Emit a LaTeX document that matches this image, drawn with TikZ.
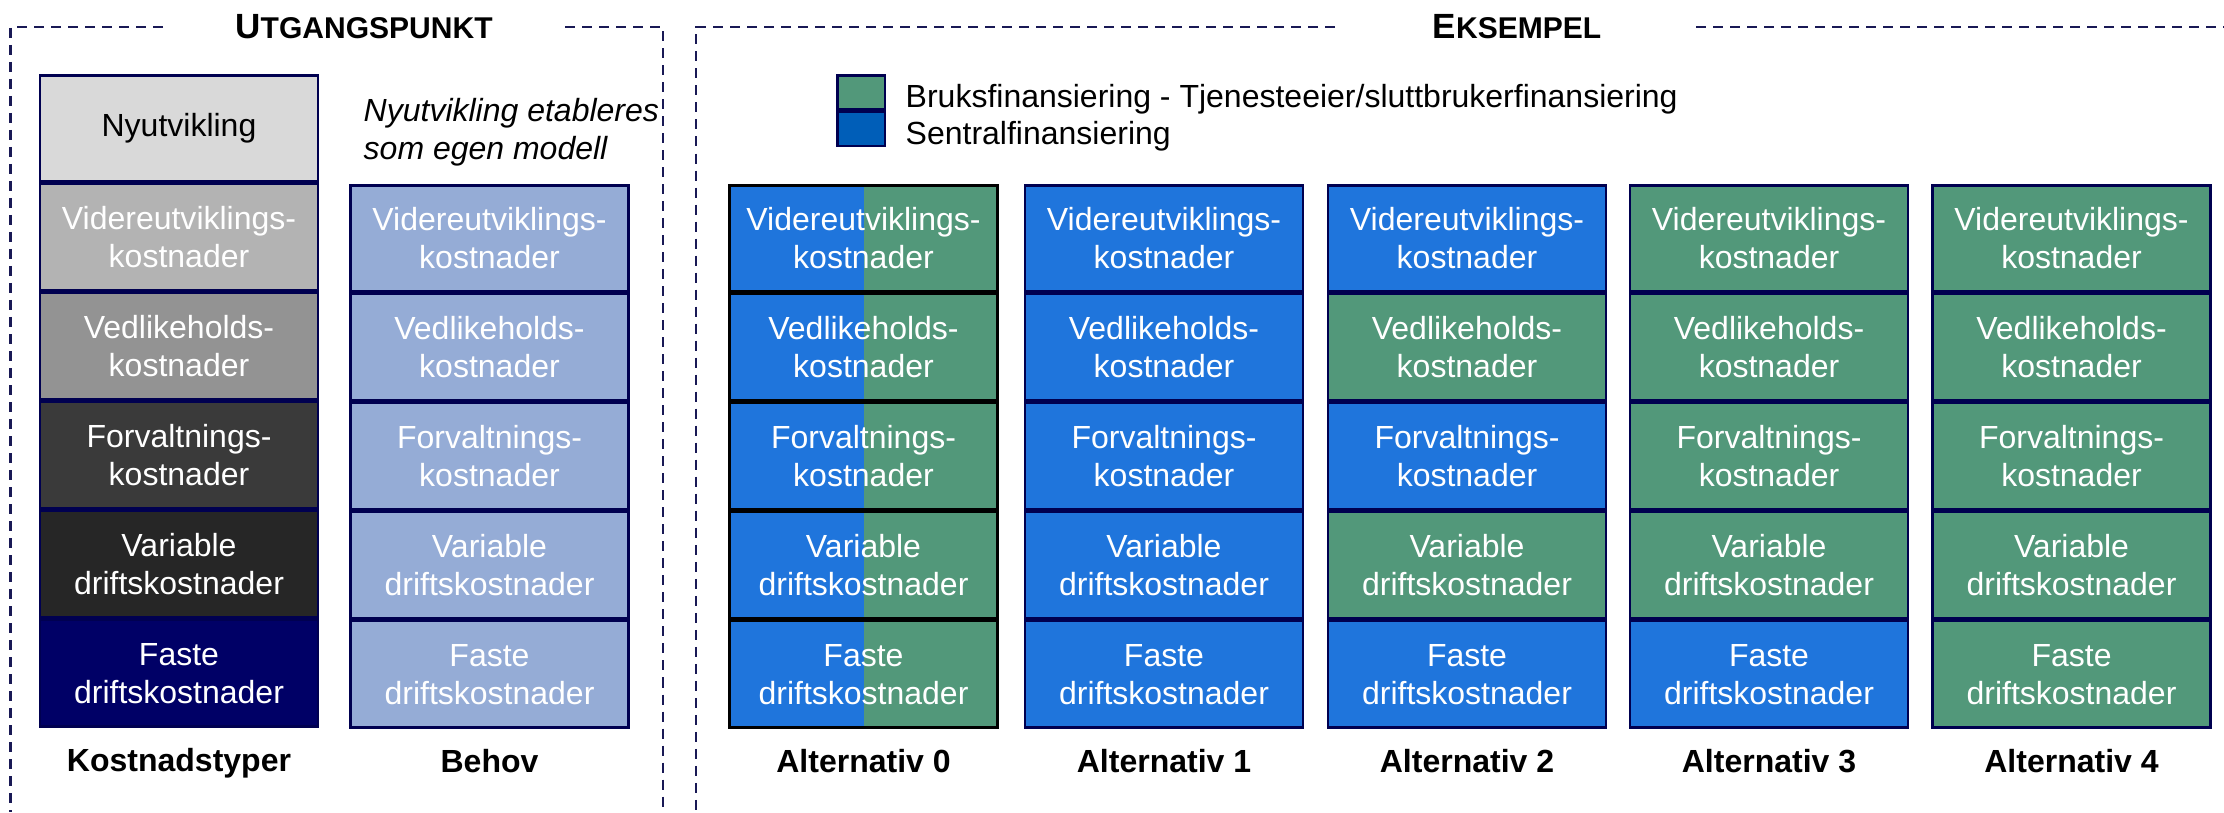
\documentclass[tikz,border=0pt]{standalone}
\usepackage{fontspec}
\setmainfont{Liberation Sans}
\usetikzlibrary{positioning}
\definecolor{boxline}{RGB}{0,0,80}
\definecolor{frameline}{RGB}{25,25,85}
\definecolor{nyutv}{RGB}{217,217,217}
\definecolor{videre}{RGB}{179,179,179}
\definecolor{vedlike}{RGB}{147,147,147}
\definecolor{forvalt}{RGB}{58,58,58}
\definecolor{variabel}{RGB}{38,38,38}
\definecolor{faste}{RGB}{0,0,102}
\definecolor{behov}{RGB}{149,172,214}
\definecolor{sentral}{RGB}{31,117,220}
\definecolor{bruk}{RGB}{82,152,122}
\definecolor{sentrallegend}{RGB}{0,94,184}
\newcommand{\firstletter}[1]{{\fontsize{9.96}{12}\selectfont #1}}
\tikzset{
    frame/.style={draw=frameline, line width=0.027cm, dash pattern=on 0.1cm off 0.07cm}, % the dashed section frames
    heading/.style={inner sep=0pt, font=\bfseries\fontsize{8.54}{10}\selectfont}, % section titles
    cell/.style={draw=boxline, line width=0.025cm, minimum width=2.775cm, minimum height=1.064cm, inner sep=0pt, align=center, text=white, font=\fontsize{9.1}{10.8}\selectfont}, % one cost box
    sentralcell/.style={cell, fill=sentral},
    brukcell/.style={cell, fill=bruk},
    splitcell/.style={cell, draw=black, minimum width=2.675cm, fill=bruk, path picture={\fill[sentral] (path picture bounding box.south west) rectangle (path picture bounding box.north);}}, % half and half
    collabel/.style={inner sep=0pt, font=\bfseries\fontsize{9.1}{10.8}\selectfont}, % name under a column
    note/.style={inner sep=0pt, align=left, font=\itshape\fontsize{9.1}{10.8}\selectfont},
    legbox/.style={draw=boxline, line width=0.025cm, minimum width=0.475cm, minimum height=0.34cm, inner sep=0pt},
    legtext/.style={inner sep=0pt, font=\fontsize{9.1}{10.8}\selectfont},
}
\begin{document}
\begin{tikzpicture}[x=0.01cm, y=-0.01cm]
\useasboundingbox (0,0) rectangle (2224,812);
\draw[frame] (163,27) -| (10.7,812);
\draw[frame] (565,27) -| (663,812);
\draw[frame] (1335,27) -| (696,812);
\draw[frame] (1696,27) -- (2224,27);
\node[heading] (utg) at (364,27) {\firstletter{U}TGANGSPUNKT};
\node[heading] (eks) at (1517,27) {\firstletter{E}KSEMPEL};

\node[cell, fill=nyutv, text=black, anchor=north] (k1) at (179,74) {Nyutvikling};
\node[cell, fill=videre, below=0pt of k1] (k2) {Videreutviklings-\\kostnader};
\node[cell, fill=vedlike, below=0pt of k2] (k3) {Vedlikeholds-\\kostnader};
\node[cell, fill=forvalt, below=0pt of k3] (k4) {Forvaltnings-\\kostnader};
\node[cell, fill=variabel, below=0pt of k4] (k5) {Variable\\driftskostnader};
\node[cell, fill=faste, below=0pt of k5] (k6) {Faste\\driftskostnader};
\node[collabel, below=0.2cm of k6] (klabel) {Kostnadstyper};

\node[note, anchor=west] (bnote) at (363,132) {Nyutvikling etableres\\som egen modell};
\node[cell, fill=behov, anchor=north] (b1) at (489.5,184) {Videreutviklings-\\kostnader};
\node[cell, fill=behov, below=0pt of b1] (b2) {Vedlikeholds-\\kostnader};
\node[cell, fill=behov, below=0pt of b2] (b3) {Forvaltnings-\\kostnader};
\node[cell, fill=behov, below=0pt of b3] (b4) {Variable\\driftskostnader};
\node[cell, fill=behov, below=0pt of b4] (b5) {Faste\\driftskostnader};
\node[collabel, below=0.2cm of b5] (blabel) {Behov};

\node[legbox, fill=bruk, anchor=north west] (lbruk) at (836,74) {};
\node[legbox, fill=sentrallegend, below=0pt of lbruk] (lsentral) {};
\node[legtext, anchor=west] (tbruk) at (905,99) {Bruksfinansiering - Tjenesteeier/sluttbrukerfinansiering};
\node[legtext, anchor=west] (tsentral) at (905,136) {Sentralfinansiering};

\foreach \n/\cx/\sa/\sb/\sc/\sd/\se in {
    0/863.5/splitcell/splitcell/splitcell/splitcell/splitcell,
    1/1164/sentralcell/sentralcell/sentralcell/sentralcell/sentralcell,
    2/1467/sentralcell/brukcell/sentralcell/brukcell/sentralcell,
    3/1769/brukcell/brukcell/brukcell/brukcell/sentralcell,
    4/2071.5/brukcell/brukcell/brukcell/brukcell/brukcell}{
    \node[\sa, anchor=north] (a\n-1) at (\cx,184) {Videreutviklings-\\kostnader};
    \node[\sb, below=0pt of a\n-1] (a\n-2) {Vedlikeholds-\\kostnader};
    \node[\sc, below=0pt of a\n-2] (a\n-3) {Forvaltnings-\\kostnader};
    \node[\sd, below=0pt of a\n-3] (a\n-4) {Variable\\driftskostnader};
    \node[\se, below=0pt of a\n-4] (a\n-5) {Faste\\driftskostnader};
    \node[collabel, below=0.2cm of a\n-5] (alabel\n) {Alternativ \n};
}
\end{tikzpicture}
\end{document}
